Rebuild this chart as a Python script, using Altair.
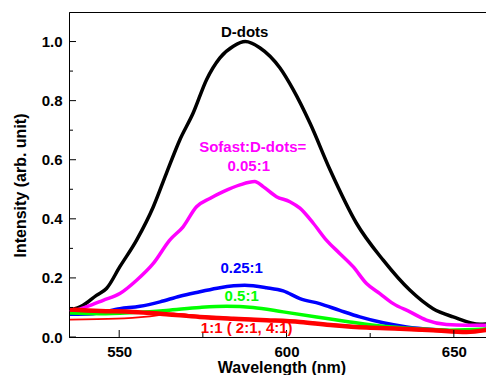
import altair as alt
import pandas as pd

# ---- data ----
ddots_wl = [535.3, 539.2, 543.2, 546.2, 550.2, 555.2, 560.2, 564.1, 568.1, 572.1, 576.1, 580.1, 584.1, 587.7,
            592.0, 598.0, 602.0, 607.0, 613.0, 620.9, 628.9, 636.9, 643.8, 649.8, 657.8, 661.8]
ddots_val = [0.090, 0.107, 0.141, 0.164, 0.238, 0.328, 0.441, 0.554, 0.667, 0.758, 0.871, 0.945, 0.984, 1.0,
             0.979, 0.911, 0.837, 0.724, 0.566, 0.385, 0.260, 0.158, 0.096, 0.068, 0.043, 0.045]

r005_wl = [535.3, 540.2, 545.2, 550.2, 555.2, 560.2, 565.1, 569.1, 573.1, 577.1, 581.1, 586.1, 590.5, 593.0,
           597.0, 601.0, 604.0, 608.0, 611.9, 615.9, 619.9, 623.9, 627.9, 631.9, 636.9, 641.8, 647.8, 653.8, 661.8]
r005_val = [0.085, 0.102, 0.124, 0.147, 0.192, 0.249, 0.328, 0.373, 0.441, 0.469, 0.492, 0.515, 0.526, 0.509,
            0.475, 0.458, 0.436, 0.385, 0.328, 0.283, 0.238, 0.181, 0.147, 0.113, 0.085, 0.057, 0.042, 0.040, 0.040]

r025_wl = [535.3, 542.2, 550.2, 556.2, 562.2, 568.1, 574.1, 580.1, 587.5, 594.0, 599.0, 604.0, 609.9, 615.9,
           621.9, 628.9, 635.9, 643.8, 651.8, 657.8, 661.8]
r025_val = [0.077, 0.079, 0.096, 0.104, 0.119, 0.138, 0.153, 0.167, 0.175, 0.167, 0.156, 0.130, 0.113, 0.090,
            0.068, 0.048, 0.034, 0.025, 0.020, 0.023, 0.031]

r05_wl = [535.3, 544.2, 554.2, 564.1, 574.1, 582.1, 590.0, 599.0, 609.0, 618.9, 628.9, 638.8, 648.8, 661.8]
r05_val = [0.081, 0.079, 0.083, 0.090, 0.100, 0.104, 0.100, 0.085, 0.068, 0.051, 0.036, 0.028, 0.023, 0.028]

r1_wl = [535.3, 544.2, 554.2, 564.1, 574.1, 584.1, 594.0, 604.0, 614.0, 623.9, 633.9, 643.8, 653.8, 661.8]
r1_val = [0.093, 0.088, 0.085, 0.077, 0.068, 0.062, 0.057, 0.051, 0.040, 0.032, 0.028, 0.023, 0.017, 0.028]

r2_wl = [535.3, 549.2, 559.2, 566.1, 574.1, 584.1, 594.0, 604.0, 614.0, 623.9, 633.9, 643.8, 653.8, 661.8]
r2_val = [0.059, 0.062, 0.070, 0.079, 0.070, 0.062, 0.056, 0.050, 0.041, 0.033, 0.027, 0.020, 0.017, 0.023]

r4_wl = [535.3, 549.2, 559.2, 566.1, 574.1, 584.1, 594.0, 604.0, 614.0, 623.9, 633.9, 643.8, 653.8, 661.8]
r4_val = [0.088, 0.086, 0.082, 0.078, 0.071, 0.064, 0.058, 0.052, 0.042, 0.034, 0.026, 0.021, 0.019, 0.026]

series_names = ["D-dots", "0.05:1", "0.25:1", "0.5:1", "2:1", "4:1", "1:1"]
series_wl = [ddots_wl, r005_wl, r025_wl, r05_wl, r2_wl, r4_wl, r1_wl]
series_val = [ddots_val, r005_val, r025_val, r05_val, r2_val, r4_val, r1_val]
series_color = ["#000000", "#ff00ff", "#0000ff", "#00ff00", "#ff0000", "#ff0000", "#ff0000"]
series_width = [3.5, 3.5, 3.5, 3.5, 1.8, 2.2, 4.5]

label_text = ["D-dots", "Sofast:D-dots=", "0.05:1", "0.25:1", "0.5:1", "1:1 ( 2:1, 4:1)"]
label_x = [587.5, 589.9, 588.7, 586.6, 586.6, 588.1]
label_y = [1.034, 0.644, 0.580, 0.234, 0.139, 0.031]
label_color = ["#000000", "#ff00ff", "#ff00ff", "#0000ff", "#00ff00", "#ff0000"]

x_major = [550, 600, 650]
x_minor = [575, 625]
y_major = [0.0, 0.2, 0.4, 0.6, 0.8, 1.0]
y_minor = [0.1, 0.3, 0.5, 0.7, 0.9]

FONT = "Liberation Sans"
W, H = 425, 325

xscale = alt.Scale(domain=[535, 662], nice=False, zero=False)
yscale = alt.Scale(domain=[0, 1.1], nice=False)

x_axis = alt.Axis(values=x_major, format="d", ticks=False, grid=False, domainColor="black",
                  labelFont=FONT, labelFontWeight="bold", labelFontSize=15, labelColor="black",
                  labelPadding=7, title="Wavelength (nm)", titleFont=FONT, titleFontWeight="bold",
                  titleFontSize=16, titleColor="black", titleBaseline="alphabetic", titleY=35)
y_axis = alt.Axis(values=y_major, format=".1f", ticks=False, grid=False, domainColor="black",
                  labelFont=FONT, labelFontWeight="bold", labelFontSize=15, labelColor="black",
                  labelPadding=7, title="Intensity (arb. unit)", titleFont=FONT, titleFontWeight="bold",
                  titleFontSize=16, titleColor="black", titleBaseline="alphabetic", titleX=-44, titleY=173)

layers = []
base_axes = alt.Chart(pd.DataFrame({"x": [535], "y": [0]})).mark_point(opacity=0).encode(
    x=alt.X("x:Q", scale=xscale, axis=x_axis),
    y=alt.Y("y:Q", scale=yscale, axis=y_axis),
)
layers.append(base_axes)

for name, wl, val, col, sw in zip(series_names, series_wl, series_val, series_color, series_width):
    df = pd.DataFrame({"x": wl, "y": val})
    layers.append(
        alt.Chart(df).mark_line(color=col, strokeWidth=sw, clip=True, interpolate="monotone").encode(
            x=alt.X("x:Q", scale=xscale), y=alt.Y("y:Q", scale=yscale)
        )
    )

# inward ticks
def xticks(vals, length):
    return alt.Chart(pd.DataFrame({"x": vals})).mark_rule(color="black", strokeWidth=1).encode(
        x=alt.X("x:Q", scale=xscale), y=alt.value(H), y2=alt.value(H - length))

def yticks(vals, length):
    return alt.Chart(pd.DataFrame({"y": vals})).mark_rule(color="black", strokeWidth=1).encode(
        y=alt.Y("y:Q", scale=yscale), x=alt.value(0), x2=alt.value(length))

layers += [xticks(x_major, 7), xticks(x_minor, 4), yticks(y_major, 7), yticks(y_minor, 4)]

lab_df = pd.DataFrame({"t": label_text, "x": label_x, "y": label_y, "c": label_color})
layers.append(
    alt.Chart(lab_df).mark_text(font=FONT, fontWeight="bold", fontSize=15, baseline="middle", align="center").encode(
        x=alt.X("x:Q", scale=xscale), y=alt.Y("y:Q", scale=yscale), text="t:N",
        color=alt.Color("c:N", scale=None)
    )
)

chart = alt.layer(*layers).properties(
    width=W, height=H,
    autosize=alt.AutoSizeParams(type="none"),
    padding={"left": 61, "top": 4, "right": -8, "bottom": 38},
    background="white",
).configure_view(stroke="black", strokeWidth=1)

chart.save("out.html", embed_options={"renderer": "svg", "actions": False})
